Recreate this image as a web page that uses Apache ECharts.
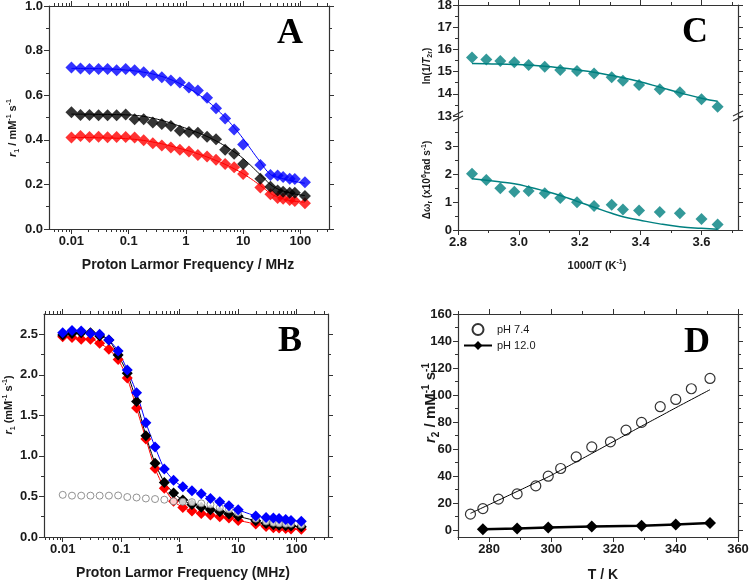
<!DOCTYPE html>
<html>
<head>
<meta charset="utf-8">
<title>Relaxivity panels</title>
<script src="https://cdn.jsdelivr.net/npm/echarts@6/dist/echarts.min.js"></script>
<style>
  html, body { margin: 0; padding: 0; background: #fff; }
  #chart { width: 750px; height: 581px; }
</style>
</head>
<body>
<div id="chart"></div>
<script>
// proton Larmor frequencies (MHz) used in A and B
var freq = [0.01, 0.0144, 0.0207, 0.0298, 0.0428, 0.0616, 0.0886, 0.127, 0.183, 0.264, 0.379, 0.546, 0.785, 1.13, 1.62, 2.34, 3.36, 4.84, 6.96, 10, 20, 30, 40, 50, 65, 80, 120];

// panel A
var aBlue = [0.724, 0.72, 0.717, 0.717, 0.717, 0.712, 0.717, 0.712, 0.703, 0.69, 0.681, 0.666, 0.657, 0.635, 0.621, 0.589, 0.541, 0.495, 0.446, 0.379, 0.287, 0.242, 0.24, 0.233, 0.225, 0.224, 0.21];
var aBlack = [0.523, 0.511, 0.511, 0.51, 0.51, 0.51, 0.513, 0.492, 0.492, 0.478, 0.471, 0.462, 0.441, 0.435, 0.432, 0.414, 0.402, 0.355, 0.337, 0.292, 0.225, 0.19, 0.173, 0.167, 0.163, 0.163, 0.148];
var aRed = [0.41, 0.417, 0.413, 0.414, 0.411, 0.413, 0.413, 0.41, 0.398, 0.385, 0.374, 0.365, 0.355, 0.347, 0.332, 0.325, 0.311, 0.291, 0.277, 0.247, 0.186, 0.156, 0.139, 0.136, 0.13, 0.126, 0.115];
var aBlueFit = [0.72, 0.72, 0.72, 0.719, 0.718, 0.716, 0.713, 0.709, 0.703, 0.695, 0.684, 0.67, 0.652, 0.63, 0.605, 0.575, 0.54, 0.5, 0.455, 0.405, 0.3, 0.245, 0.232, 0.225, 0.218, 0.213, 0.205];
var aBlackFit = [0.515, 0.515, 0.515, 0.514, 0.514, 0.513, 0.512, 0.51, 0.505, 0.497, 0.487, 0.475, 0.461, 0.447, 0.432, 0.415, 0.395, 0.372, 0.346, 0.316, 0.243, 0.2, 0.18, 0.17, 0.162, 0.157, 0.15];
var aRedFit = [0.41, 0.41, 0.41, 0.409, 0.408, 0.407, 0.405, 0.402, 0.397, 0.39, 0.382, 0.372, 0.361, 0.35, 0.337, 0.323, 0.307, 0.29, 0.27, 0.248, 0.195, 0.16, 0.143, 0.135, 0.128, 0.124, 0.12];

// panel B
var bBlue = [2.52, 2.545, 2.54, 2.51, 2.5, 2.43, 2.295, 2.06, 1.78, 1.41, 1.11, 0.84, 0.7, 0.62, 0.57, 0.534, 0.475, 0.435, 0.386, 0.335, 0.26, 0.24, 0.235, 0.228, 0.215, 0.205, 0.195];
var bBlack = [2.49, 2.51, 2.52, 2.52, 2.48, 2.43, 2.245, 2.02, 1.67, 1.25, 0.91, 0.673, 0.542, 0.455, 0.4, 0.368, 0.336, 0.31, 0.285, 0.255, 0.2, 0.165, 0.152, 0.145, 0.14, 0.135, 0.125];
var bRed = [2.47, 2.46, 2.44, 2.44, 2.39, 2.315, 2.19, 1.96, 1.59, 1.21, 0.845, 0.6, 0.44, 0.365, 0.32, 0.29, 0.27, 0.25, 0.235, 0.205, 0.16, 0.13, 0.115, 0.11, 0.105, 0.1, 0.095];
var bOpen = [0.52, 0.51, 0.51, 0.51, 0.51, 0.51, 0.512, 0.493, 0.487, 0.475, 0.468, 0.46, 0.44, 0.435, 0.43, 0.415, 0.4, 0.36, 0.34, 0.3, 0.225, 0.19, 0.175, 0.168, 0.163, 0.162, 0.15];

// panel C (x = 1000/T)
var cX = [2.846, 2.893, 2.939, 2.985, 3.032, 3.085, 3.136, 3.191, 3.247, 3.305, 3.342, 3.395, 3.463, 3.529, 3.6, 3.653];
var cLn = [15.64, 15.55, 15.48, 15.42, 15.3, 15.22, 15.07, 15.03, 14.92, 14.74, 14.59, 14.4, 14.2, 14.07, 13.75, 13.42];
var cLnFit = [15.36, 15.35, 15.34, 15.32, 15.29, 15.24, 15.17, 15.08, 14.97, 14.82, 14.72, 14.55, 14.3, 14.05, 13.8, 13.66];
var cDw = [2.02, 1.8, 1.5, 1.38, 1.4, 1.32, 1.15, 1.0, 0.86, 0.91, 0.74, 0.7, 0.65, 0.6, 0.4, 0.2];
var cDwFit = [1.84, 1.79, 1.73, 1.66, 1.55, 1.4, 1.24, 1.03, 0.82, 0.6, 0.48, 0.36, 0.22, 0.12, 0.06, 0.03];

// panel D
var dT74 = [274, 278, 283, 289, 295, 299, 303, 308, 313, 319, 324, 329, 335, 340, 345, 351];
var dR74 = [11.9, 16.0, 23.0, 26.9, 32.8, 40.0, 45.7, 54.3, 61.7, 65.4, 74.1, 79.8, 91.4, 96.8, 104.7, 112.3];
var dFit74 = [12.5, 16.8, 22.2, 28.7, 35.2, 39.5, 44.4, 50.6, 56.8, 64.4, 70.7, 77, 84.4, 90.6, 96.7, 104];
var dT12 = [278, 289, 299, 313, 329, 340, 351];
var dR12 = [0.8, 1.2, 2.0, 2.7, 3.4, 4.2, 5.4];

// tick values
var logMajor = [0.01, 0.1, 1, 10, 100];
var aYTicks = [0, 0.2, 0.4, 0.6, 0.8, 1.0];
var aYMinor = [0.1, 0.3, 0.5, 0.7, 0.9];
var bYTicks = [0, 0.5, 1.0, 1.5, 2.0, 2.5];
var bYMinor = [0.25, 0.75, 1.25, 1.75, 2.25];
var cXTicks = [2.8, 3.0, 3.2, 3.4, 3.6];
var cXMinor = [2.9, 3.1, 3.3, 3.5, 3.7];
var cUpTicks = [13, 14, 15, 16, 17, 18];
var cUpMinor = [13.5, 14.5, 15.5, 16.5, 17.5];
var cLoTicks = [0, 1, 2, 3];
var cLoMinor = [0.5, 1.5, 2.5, 3.5];
var dXTicks = [280, 300, 320, 340, 360];
var dXMinor = [270, 290, 310, 330, 350];
var dYTicks = [0, 20, 40, 60, 80, 100, 120, 140, 160];
var dYMinor = [10, 30, 50, 70, 90, 110, 130, 150];

var FONT = 'Liberation Sans';
var INK = '#1a1a1a';
var AXC = '#333';

var logF = freq.map(function (f) { return Math.log10(f); });
var logMajorV = logMajor.map(function (f) { return Math.log10(f); });
function logMinor(range) {
  var out = [];
  for (var n = -4; n <= 3; n++) {
    for (var k = 2; k <= 9; k++) {
      var v = Math.log10(k) + n;
      if (v > range[0] && v < range[1]) out.push(v);
    }
  }
  return out;
}
function zip(xs, ys) { return xs.map(function (x, i) { return [x, ys[i]]; }); }

var fmtLog = function (v) {
  for (var i = 0; i < logMajor.length; i++) {
    if (Math.abs(logMajorV[i] - v) < 1e-6) return String(logMajor[i]);
  }
  return '';
};
var fmt1 = function (v) { return v.toFixed(1); };
var fmt0 = function (v) { return String(Math.round(v)); };

var xAxes = [], yAxes = [];
function addAxis(list, grid, pos, range, ticks, len, line, fmt) {
  list.push({
    type: 'value', gridIndex: grid, position: pos, min: range[0], max: range[1],
    axisLine: { show: line, onZero: false, lineStyle: { color: AXC, width: 1.2 } },
    axisTick: { show: true, customValues: ticks, length: len, lineStyle: { color: AXC, width: 1 } },
    axisLabel: fmt ? { show: true, customValues: ticks, formatter: fmt, margin: 6,
      fontFamily: FONT, fontWeight: 'bold', fontSize: 13, color: INK } : { show: false },
    splitLine: { show: false }
  });
  return list.length - 1;
}
// sides: which frame edges to draw (t, b, l, r)
function frame(grid, xr, yr, xMaj, xMin, yMaj, yMin, fx, fy, sides) {
  var xi = -1, yi = -1;
  if (sides.indexOf('b') >= 0) {
    xi = addAxis(xAxes, grid, 'bottom', xr, xMaj, 5, true, fx);
    addAxis(xAxes, grid, 'bottom', xr, xMin, 3, false, null);
  }
  if (sides.indexOf('t') >= 0) {
    var ti = addAxis(xAxes, grid, 'top', xr, xMaj, 5, true, null);
    addAxis(xAxes, grid, 'top', xr, xMin, 3, false, null);
    if (xi < 0) xi = ti;
  }
  yi = addAxis(yAxes, grid, 'left', yr, yMaj, 5, true, fy);
  addAxis(yAxes, grid, 'left', yr, yMin, 3, false, null);
  addAxis(yAxes, grid, 'right', yr, yMaj, 5, true, null);
  addAxis(yAxes, grid, 'right', yr, yMin, 3, false, null);
  return { x: xi, y: yi };
}

var grids = [
  { left: 49, top: 6, width: 280, height: 223 },     // A
  { left: 44, top: 314, width: 284, height: 223 },   // B
  { left: 458, top: 5, width: 280, height: 111 },    // C upper
  { left: 458, top: 116, width: 280, height: 114 },  // C lower
  { left: 458, top: 314, width: 280, height: 223 }   // D
].map(function (g) { g.containLabel = false; g.outerBoundsMode = 'none'; return g; });

var aX = [-2.392, 2.5], bX = [-2.32, 2.536];
var axA = frame(0, aX, [0, 1], logMajorV, logMinor(aX), aYTicks, aYMinor, fmtLog, fmt1, 'tblr');
var axB = frame(1, bX, [0, 2.75], logMajorV, logMinor(bX), bYTicks, bYMinor, fmtLog, fmt1, 'tblr');
var axCu = frame(2, [2.8, 3.72], [13, 18], cXTicks, cXMinor, cUpTicks, cUpMinor, null, fmt0, 't');
var axCl = frame(3, [2.8, 3.72], [0, 4.1], cXTicks, cXMinor, cLoTicks, cLoMinor, fmt1, fmt0, 'b');
var axD = frame(4, [270, 360], [-5, 160], dXTicks, dXMinor, dYTicks, dYMinor, fmt0, fmt0, 'tblr');

function pts(ax, name, data, color, size, z) {
  return { type: 'scatter', name: name, xAxisIndex: ax.x, yAxisIndex: ax.y, data: data,
    symbol: 'diamond', symbolSize: size || [12, 12], itemStyle: { color: color }, z: z || 3 };
}
function fit(ax, data, color, width) {
  return { type: 'line', xAxisIndex: ax.x, yAxisIndex: ax.y, data: data, smooth: true,
    symbol: 'none', lineStyle: { color: color, width: width || 1 }, z: 4 };
}
function conn(ax, data, color) {
  return { type: 'line', xAxisIndex: ax.x, yAxisIndex: ax.y, data: data, smooth: 0.2,
    symbol: 'diamond', symbolSize: [11, 11], showAllSymbol: true,
    itemStyle: { color: color }, lineStyle: { color: color, width: 1 } };
}

var TEAL = '#008080';
var series = [
  pts(axA, 'A red', zip(logF, aRed), '#ff0000'),
  pts(axA, 'A black', zip(logF, aBlack), '#000000'),
  pts(axA, 'A blue', zip(logF, aBlue), '#0000ff'),
  fit(axA, zip(logF, aRedFit), '#ff0000'),
  fit(axA, zip(logF, aBlackFit), '#000000'),
  fit(axA, zip(logF, aBlueFit), '#0000ff'),

  conn(axB, zip(logF, bRed), '#ff0000'),
  conn(axB, zip(logF, bBlack), '#000000'),
  { type: 'scatter', xAxisIndex: axB.x, yAxisIndex: axB.y, data: zip(logF, bOpen),
    symbol: 'circle', symbolSize: 7, z: 3,
    itemStyle: { color: '#ffffff', borderColor: '#777', borderWidth: 1 } },
  conn(axB, zip(logF, bBlue), '#0000ff'),

  pts(axCu, 'C ln', zip(cX, cLn), TEAL),
  fit(axCu, zip(cX, cLnFit), TEAL, 1.5),
  pts(axCl, 'C dw', zip(cX, cDw), TEAL),
  fit(axCl, zip(cX, cDwFit), TEAL, 1.5),

  { type: 'scatter', name: 'pH 7.4', xAxisIndex: axD.x, yAxisIndex: axD.y, data: zip(dT74, dR74),
    symbol: 'circle', symbolSize: 10, z: 3,
    itemStyle: { color: '#ffffff', borderColor: '#000', borderWidth: 1.2 } },
  { type: 'line', xAxisIndex: axD.x, yAxisIndex: axD.y, data: zip(dT74, dFit74), smooth: true,
    symbol: 'none', lineStyle: { color: '#000', width: 1 }, z: 4 },
  { type: 'line', name: 'pH 12.0', xAxisIndex: axD.x, yAxisIndex: axD.y, data: zip(dT12, dR12),
    symbol: 'diamond', symbolSize: [12, 12], itemStyle: { color: '#000' },
    lineStyle: { color: '#000', width: 2.5 }, z: 5 }
];

function rich(size) {
  var s = Math.round(size * 0.68);
  var base = { fontFamily: FONT, fontWeight: 'bold', fill: INK };
  return {
    i: Object.assign({ fontStyle: 'italic', fontSize: size, lineHeight: size * 1.3 }, base),
    sub: Object.assign({ fontSize: s, lineHeight: s, verticalAlign: 'bottom' }, base),
    sup: Object.assign({ fontSize: s, lineHeight: s, verticalAlign: 'top' }, base)
  };
}
function label(x, y, text, size, vertical) {
  return { type: 'text', x: x, y: y, rotation: vertical ? Math.PI / 2 : 0, z: 50,
    style: { text: text, fontFamily: FONT, fontWeight: 'bold', fontSize: size, lineHeight: size * 1.3,
      fill: INK, align: 'center', verticalAlign: 'middle', rich: rich(size) } };
}
function letter(x, y, t) {
  return { type: 'text', x: x, y: y, z: 50,
    style: { text: t, fontFamily: 'Liberation Serif', fontWeight: 'bold', fontSize: 36,
      fill: '#000', align: 'center', verticalAlign: 'middle' } };
}
function axisBreak(x, y) {
  return { type: 'group', x: x, y: y, z: 60, children: [
    { type: 'rect', shape: { x: -5, y: -3, width: 10, height: 6 }, style: { fill: '#fff' } },
    { type: 'line', shape: { x1: -5, y1: 0, x2: 5, y2: -5 }, style: { stroke: AXC, lineWidth: 1.2 } },
    { type: 'line', shape: { x1: -5, y1: 5, x2: 5, y2: 0 }, style: { stroke: AXC, lineWidth: 1.2 } }
  ] };
}

var graphics = [
  label(13, 128, '{i|r}{sub|1} / mM{sup|-1} s{sup|-1}', 11, true),
  label(188, 265, 'Proton Larmor Frequency / MHz', 14, false),
  label(9, 405, '{i|r}{sub|1} (mM{sup|-1} s{sup|-1})', 11, true),
  label(183, 573, 'Proton Larmor Frequency (MHz)', 14, false),
  label(427, 66, 'ln(1/{i|T}{sub|2r})', 10, true),
  label(427, 180, '\u0394\u03c9{sub|r} (x10{sup|6}rad s{sup|-1})', 10, true),
  label(597, 266, '1000/T (K{sup|-1})', 11, false),
  label(431, 403, '{i|r}{sub|2} / mM{sup|-1} s{sup|-1}', 15, true),
  label(603, 575, 'T / K', 14, false),
  letter(290, 34, 'A'),
  letter(290, 342, 'B'),
  letter(695, 33, 'C'),
  letter(697, 343, 'D')
].concat([axisBreak(458, 116), axisBreak(738, 116)]);

var chart = echarts.init(document.getElementById('chart'), null, { renderer: 'canvas' });
chart.setOption({
  animation: false,
  backgroundColor: '#ffffff',
  grid: grids,
  xAxis: xAxes,
  yAxis: yAxes,
  legend: {
    data: ['pH 7.4', 'pH 12.0'], orient: 'vertical', left: 463, top: 323, padding: 0,
    itemWidth: 28, itemHeight: 11, itemGap: 4,
    textStyle: { fontFamily: FONT, fontSize: 11, color: INK }
  },
  series: series,
  graphic: graphics
});
</script>
</body>
</html>
